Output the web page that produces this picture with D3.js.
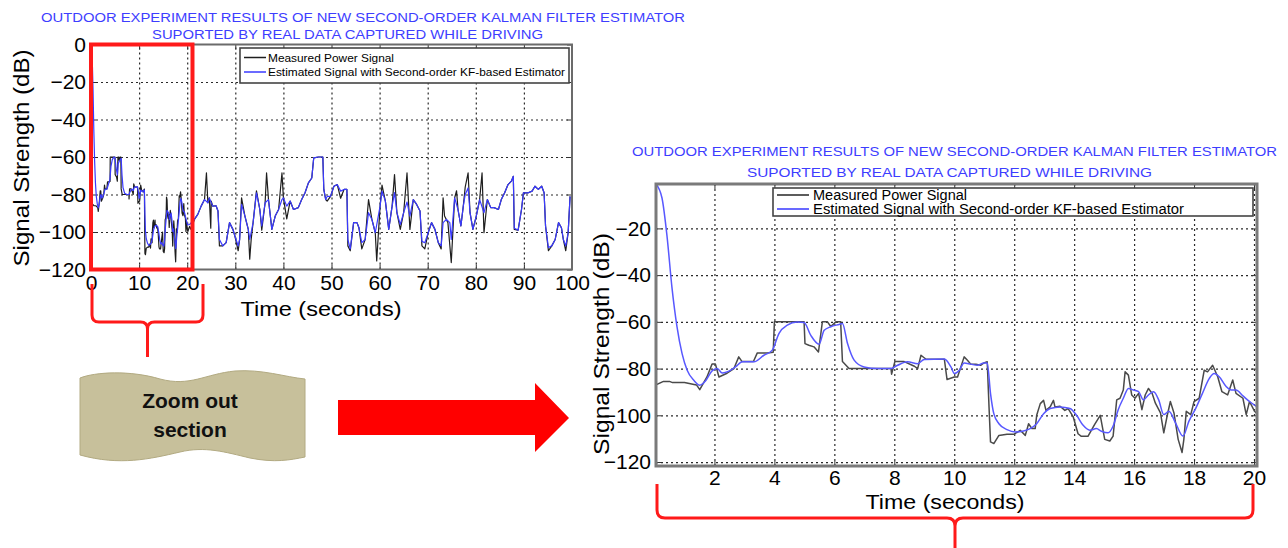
<!DOCTYPE html>
<html><head><meta charset="utf-8">
<script src="https://cdn.jsdelivr.net/npm/d3@7"></script>
<style>
html,body{margin:0;padding:0;background:#fff;}
svg{display:block;font-family:Arial,"Liberation Sans",sans-serif;}
</style></head><body>
<svg id="chart" width="1288" height="548"></svg>
<script>
// ---------------- DATA ----------------
const titleLines = ["OUTDOOR EXPERIMENT RESULTS OF NEW SECOND-ORDER KALMAN FILTER ESTIMATOR",
                    "SUPORTED BY REAL DATA CAPTURED WHILE DRIVING"];
const seriesNames = ["Measured Power Signal", "Estimated Signal with Second-order KF-based Estimator"];
const xAxisTitle = "Time (seconds)";
const yAxisTitle = "Signal Strength (dB)";
const calloutLines = ["Zoom out", "section"];

const overviewXTicks = [0,10,20,30,40,50,60,70,80,90,100];
const overviewYTicks = [0,-20,-40,-60,-80,-100,-120];
const zoomXTicks = [2,4,6,8,10,12,14,16,18,20];
const zoomYTicks = [-20,-40,-60,-80,-100,-120];
const zoomWindow = [0, 21.1];   // seconds highlighted in the overview

// measured power, first 20 s  [time s, dB]
const measuredFirst20 = [[0.05,-87],[0.3,-85.5],[0.5,-85.5],[0.6,-86],[1.0,-86],[1.4,-87],[1.51,-89],[1.75,-83.6],[1.92,-78],[2.03,-78],[2.15,-83.6],[2.42,-82],[2.65,-80],[2.81,-75],[2.92,-77],[3.3,-77],[3.43,-73.3],[3.76,-73.3],[3.96,-73],[4.0,-60],[4.99,-60],[5.02,-69.3],[5.15,-70],[5.32,-70.7],[5.47,-72.9],[5.6,-60],[5.77,-60],[5.88,-62],[6.05,-60],[6.21,-60],[6.27,-77],[6.49,-80],[7.89,-80],[7.91,-82.4],[8.02,-77],[8.33,-77],[8.67,-79],[8.78,-80],[8.89,-74.3],[9.06,-76],[9.67,-76],[9.76,-84.7],[10.0,-83.6],[10.11,-83.6],[10.33,-75],[10.44,-76.4],[10.55,-78.1],[10.72,-78.1],[10.88,-78.6],[10.99,-77.6],[11.1,-77.1],[11.16,-96.4],[11.21,-111.4],[11.32,-112.1],[11.49,-108.6],[11.76,-108.1],[12.0,-108.1],[12.2,-106.4],[12.37,-108.6],[12.48,-103.6],[12.59,-105.7],[12.7,-105.7],[12.75,-100],[12.87,-95],[12.98,-93.6],[13.06,-97.9],[13.2,-96.4],[13.31,-93.6],[13.36,-96.4],[13.53,-96.1],[13.69,-97.9],[13.8,-97.1],[13.97,-100.7],[14.13,-107.9],[14.24,-109],[14.46,-109],[14.68,-104],[14.87,-100],[15.02,-110.3],[15.19,-111],[15.3,-108.9],[15.42,-93.4],[15.53,-92.7],[15.64,-89.2],[15.7,-81.4],[15.81,-82.8],[15.92,-91.3],[16.03,-92.7],[16.15,-90.6],[16.26,-97.6],[16.37,-91.3],[16.48,-88.5],[16.6,-90.6],[16.71,-94.8],[16.88,-99],[16.99,-107.5],[17.1,-100.4],[17.21,-94.1],[17.33,-99],[17.47,-110.3],[17.6,-115.9],[17.66,-110.3],[17.74,-98.3],[17.89,-99.7],[18.0,-94.1],[18.17,-92.7],[18.34,-80.7],[18.45,-81.4],[18.62,-78.6],[18.79,-83.5],[18.93,-89.9],[19.12,-91.3],[19.29,-84.9],[19.4,-90.6],[19.63,-92.7],[19.74,-99.7],[19.85,-94.1],[20.02,-98.3],[20.13,-99.7]];

// KF estimate, first 20 s
const estimatedFirst20 = [[0.0,0],[0.05,-1],[0.25,-7],[0.42,-23.6],[0.58,-45],[0.75,-62],[0.92,-73.6],[1.09,-80.7],[1.31,-85],[1.51,-87.1],[1.7,-85.3],[1.92,-81],[2.09,-80],[2.26,-81.9],[2.42,-81.4],[2.7,-79.3],[2.93,-77.1],[3.32,-77.1],[3.65,-74.3],[3.93,-72.1],[4.15,-65],[4.43,-61.4],[4.76,-60.1],[4.99,-60.3],[5.21,-65.7],[5.49,-69.6],[5.66,-63.6],[5.88,-62.1],[6.16,-61.1],[6.27,-60.7],[6.44,-69.3],[6.66,-76.4],[6.99,-79.3],[7.44,-80],[7.89,-80],[8.11,-78.6],[8.44,-77.1],[8.78,-77.9],[9.0,-76.1],[9.67,-75.9],[9.89,-79.3],[10.0,-82.1],[10.17,-80.7],[10.33,-77.6],[10.55,-78.1],[10.77,-78.6],[10.99,-77.6],[11.1,-77.6],[11.21,-90.7],[11.32,-99.3],[11.49,-103.6],[11.76,-106.1],[12.04,-107.1],[12.31,-106.7],[12.53,-105.7],[12.75,-103.6],[12.98,-99.3],[13.2,-97.1],[13.53,-96.4],[13.86,-97.1],[14.08,-100],[14.3,-104.3],[14.52,-106.4],[14.74,-105.7],[14.91,-106.8],[15.13,-107.5],[15.3,-104.6],[15.47,-97.6],[15.64,-92.7],[15.81,-88.5],[15.98,-89.2],[16.15,-89.9],[16.31,-93.4],[16.48,-91.3],[16.65,-89.9],[16.82,-93.4],[16.99,-99.7],[17.16,-98.3],[17.38,-103.2],[17.63,-108.9],[17.83,-102.5],[18.06,-96.9],[18.28,-90.6],[18.51,-84.2],[18.67,-82.1],[18.84,-83.5],[19.07,-87.7],[19.24,-89.2],[19.4,-89.2],[19.63,-91.7],[19.85,-94.1],[20.08,-96.2]];

// measured power, 20-100 s (overview only)
const measuredLater = [[20.5,-97],[20.8,-98.6],[21.5,-93.3],[22.2,-90.6],[22.9,-86.2],[23.6,-82.7],[24.0,-68.5],[24.3,-84.4],[24.6,-81.8],[24.9,-98],[25.0,-83.5],[25.3,-86.2],[26.0,-86],[26.4,-88.8],[26.7,-107.4],[27.4,-107.4],[28.1,-105.7],[28.8,-95],[29.5,-98.6],[29.9,-102],[30.6,-110],[30.9,-104],[31.3,-81.8],[32.0,-91.5],[32.7,-98.6],[33.0,-114.5],[33.3,-104],[33.7,-95],[34.4,-78],[35.1,-88],[35.5,-99],[36.2,-84.4],[36.5,-68.5],[36.9,-82.7],[37.6,-98.6],[38.3,-91.5],[39.0,-88],[39.7,-68.5],[40.0,-81.8],[40.7,-93],[41.4,-83.5],[42.1,-88],[43.1,-87],[43.8,-82.7],[44.5,-79.1],[45.2,-73.8],[45.9,-71.2],[46.3,-60.5],[47.3,-60],[48.2,-60],[48.4,-77.3],[48.8,-82.7],[49.1,-83.5],[49.8,-81],[50.5,-75.6],[51.2,-74.7],[51.9,-82],[52.6,-77.3],[53.2,-77.3],[53.4,-107.4],[53.9,-110],[54.6,-95],[55.3,-95],[55.7,-97.7],[56.3,-109],[57.0,-104],[57.7,-82.7],[58.4,-93.3],[59.1,-100.4],[59.4,-115.4],[60.1,-86.2],[60.5,-75],[61.2,-83.5],[61.9,-98.6],[62.6,-86.2],[63.1,-69.4],[63.6,-89.7],[64.3,-98.6],[65.0,-89.7],[65.7,-68.5],[66.3,-98.6],[67.0,-82.7],[67.7,-85.3],[68.4,-88.8],[68.8,-107.4],[69.4,-109],[70.1,-100.4],[70.8,-95],[71.5,-98.6],[72.2,-105.7],[72.8,-109],[73.2,-81.8],[73.5,-91.5],[74.2,-95],[74.9,-116.3],[75.6,-81.8],[76.0,-78],[76.3,-88],[76.9,-96.8],[77.4,-86.2],[77.8,-76],[78.4,-68.5],[78.8,-89.7],[79.4,-98.6],[80.1,-91.5],[80.8,-82.7],[81.3,-68.5],[81.7,-100.4],[82.4,-82.7],[83.1,-87],[83.8,-87],[84.7,-88],[85.3,-82.7],[86.0,-79.1],[86.7,-74.7],[87.4,-72.9],[87.8,-70.3],[88.0,-98.6],[88.8,-99],[89.5,-88],[89.9,-79.1],[90.9,-79.1],[91.7,-78.2],[92.3,-75.6],[93.0,-77.3],[93.7,-75.6],[94.2,-79.1],[94.5,-96.8],[95.1,-110],[95.8,-107.4],[96.5,-104],[97.2,-95],[97.8,-97.7],[98.2,-104],[98.7,-110],[99.2,-100.4],[99.6,-81]];

// KF estimate, 20-100 s (overview only)
const estimatedLater = [[20.5,-96],[21.5,-93.3],[22.2,-90.6],[22.9,-86.2],[23.6,-82.7],[24.3,-84.4],[24.6,-81.8],[25.3,-86.2],[26.0,-86],[26.4,-88.8],[26.7,-104],[27.4,-107.4],[28.1,-105.7],[28.8,-95],[29.5,-98.6],[29.9,-102],[30.6,-107.4],[30.9,-104],[31.3,-85.3],[32.0,-91.5],[32.7,-98.6],[33.0,-104],[33.7,-95],[34.4,-79.1],[35.1,-88],[35.5,-96.8],[36.2,-84.4],[36.9,-82.7],[37.6,-98.6],[38.3,-91.5],[39.0,-88],[39.7,-82.7],[40.0,-81.8],[40.7,-86.2],[41.4,-83.5],[42.1,-88],[43.1,-87],[43.8,-82.7],[44.5,-79.1],[45.2,-73.8],[45.9,-71.2],[46.3,-60.5],[47.3,-60],[48.2,-60],[48.4,-77.3],[48.8,-82.7],[49.1,-81],[49.8,-81],[50.5,-75.6],[51.2,-74.7],[51.9,-78.2],[52.6,-77.3],[53.2,-77.3],[53.4,-104],[53.9,-109],[54.6,-95],[55.3,-95],[55.7,-97.7],[56.3,-105.7],[57.0,-104],[57.7,-89.7],[58.4,-93.3],[59.1,-100.4],[60.1,-86.2],[60.5,-78.2],[61.2,-83.5],[61.9,-98.6],[62.6,-86.2],[63.1,-79],[63.6,-89.7],[64.3,-96],[65.0,-89.7],[65.7,-84],[66.3,-91.5],[67.0,-82.7],[67.7,-85.3],[68.4,-88.8],[68.8,-105],[69.4,-105.7],[70.1,-100.4],[70.8,-95],[71.5,-98.6],[72.2,-105.7],[72.8,-107.4],[73.2,-95],[73.9,-93.3],[74.6,-95],[74.9,-104],[75.6,-81.8],[76.3,-88],[76.9,-96.8],[77.4,-86.2],[77.8,-80],[78.4,-76.5],[78.8,-89.7],[79.4,-98.6],[80.1,-91.5],[80.8,-82.7],[81.7,-89.7],[82.4,-82.7],[83.1,-87],[83.8,-87],[84.7,-88],[85.3,-82.7],[86.0,-79.1],[86.7,-74.7],[87.4,-72.9],[87.8,-70.3],[88.0,-98],[88.8,-99],[89.5,-88],[89.9,-79.1],[90.9,-79.1],[91.7,-78.2],[92.3,-75.6],[93.0,-77.3],[93.7,-75.6],[94.2,-79.1],[94.5,-96.8],[95.1,-108.3],[95.8,-107.4],[96.5,-104],[97.2,-95],[97.8,-97.7],[98.2,-104],[98.7,-107.4],[99.2,-100.4],[99.6,-81]];

// ---------------- DRAWING ----------------
const svg = d3.select("#chart");
const FONT = 'Arial,"Liberation Sans",sans-serif';
const BLUE_TITLE = "#3d3dff";

function drawPanel(p) {
  const g = svg.append("g");
  const x = d3.scaleLinear().domain(p.xDomain).range([p.left, p.right]);
  const y = d3.scaleLinear().domain(p.yDomain).range([p.bottom, p.top]);
  const W = p.right - p.left, H = p.bottom - p.top;

  p.titles.forEach((t, i) => {
    g.append("text").attr("x", t.x).attr("y", t.y).attr("text-anchor", "start")
      .attr("textLength", t.w).attr("lengthAdjust", "spacingAndGlyphs")
      .attr("font-size", p.titleSize).attr("fill", BLUE_TITLE).text(titleLines[i]);
  });

  g.append("rect").attr("x", p.left).attr("y", p.top).attr("width", W).attr("height", H).attr("fill", "#fff");

  const gx = g.append("g").attr("transform", `translate(0,${p.bottom})`)
    .call(d3.axisBottom(x).tickValues(p.xGrid).tickSize(-H).tickFormat(""));
  gx.select(".domain").remove();
  gx.selectAll("line").attr("stroke", "#2a2a2a").attr("stroke-width", 1.2).attr("stroke-dasharray", "2,3");
  const gy = g.append("g").attr("transform", `translate(${p.left},0)`)
    .call(d3.axisLeft(y).tickValues(p.yGrid).tickSize(-W).tickFormat(""));
  gy.select(".domain").remove();
  gy.selectAll("line").attr("stroke", "#2a2a2a").attr("stroke-width", 1.2).attr("stroke-dasharray", "2,3");

  [[d3.axisBottom(x).tickValues(p.xTicks).tickSize(-5).tickFormat(""), `translate(0,${p.bottom})`],
   [d3.axisTop(x).tickValues(p.xTicks).tickSize(-5).tickFormat(""), `translate(0,${p.top})`],
   [d3.axisLeft(y).tickValues(p.yTicks).tickSize(-5).tickFormat(""), `translate(${p.left},0)`],
   [d3.axisRight(y).tickValues(p.yTicks).tickSize(-5).tickFormat(""), `translate(${p.right},0)`]]
    .forEach(([ax, tr]) => {
      const a = g.append("g").attr("transform", tr).call(ax);
      a.select(".domain").remove();
      a.selectAll("line").attr("stroke", "#333").attr("stroke-width", 1);
    });

  const cid = "clip-" + p.id;
  svg.append("defs").append("clipPath").attr("id", cid).append("rect")
    .attr("x", p.left).attr("y", p.top - 2).attr("width", W).attr("height", H + 2);
  const lines = g.append("g").attr("clip-path", `url(#${cid})`);
  const lineM = d3.line().x(d => x(d[0])).y(d => y(d[1]));
  const lineE = d3.line().x(d => x(d[0])).y(d => y(d[1])).curve(p.estCurve);
  lines.append("path").datum(p.measured).attr("d", lineM).attr("fill", "none")
    .attr("stroke", p.measColor).attr("stroke-width", p.lw).attr("stroke-linejoin", "round");
  lines.append("path").datum(p.estimated).attr("d", lineE).attr("fill", "none")
    .attr("stroke", p.estColor).attr("stroke-width", p.lw).attr("stroke-linejoin", "round");

  g.append("rect").attr("x", p.left).attr("y", p.top).attr("width", W).attr("height", H)
    .attr("fill", "none").attr("stroke", p.frameColor).attr("stroke-width", p.frameWidth);

  const ax = g.append("g").attr("transform", `translate(0,${p.bottom})`)
    .call(d3.axisBottom(x).tickValues(p.xTicks).tickSize(0).tickPadding(p.xPad));
  ax.select(".domain").remove();
  ax.selectAll("text").attr("font-size", p.tickSize).attr("font-family", FONT).attr("fill", "#000");
  const ay = g.append("g").attr("transform", `translate(${p.left},0)`)
    .call(d3.axisLeft(y).tickValues(p.yTicks).tickSize(0).tickPadding(p.yPad));
  ay.select(".domain").remove();
  ay.selectAll("text").attr("font-size", p.tickSize).attr("font-family", FONT).attr("fill", "#000");

  g.append("text").attr("x", p.xTitle.x).attr("y", p.xTitle.y).attr("text-anchor", "middle")
    .attr("font-size", p.xTitle.fs).attr("textLength", p.xTitle.w).attr("lengthAdjust", "spacingAndGlyphs")
    .text(xAxisTitle);
  g.append("text").attr("transform", `translate(${p.yTitle.x},${p.yTitle.y}) rotate(-90)`)
    .attr("text-anchor", "middle").attr("font-size", p.axisTitleSize)
    .attr("textLength", p.yTitle.w).attr("lengthAdjust", "spacingAndGlyphs").text(yAxisTitle);

  const L = p.legend;
  g.append("rect").attr("x", L.x).attr("y", L.y).attr("width", L.w).attr("height", L.h)
    .attr("fill", "#fff").attr("stroke", "#444").attr("stroke-width", 1.6);
  [p.measColor, p.estColor].forEach((c, i) => {
    const yy = L.y + L.rows[i];
    g.append("line").attr("x1", L.x + L.s0).attr("x2", L.x + L.s1).attr("y1", yy).attr("y2", yy)
      .attr("stroke", c).attr("stroke-width", p.lw + 0.3);
    g.append("text").attr("x", L.x + L.tx).attr("y", yy + L.fs * 0.36).attr("font-size", L.fs)
      .attr("textLength", L.tw[i]).attr("lengthAdjust", "spacingAndGlyphs").text(seriesNames[i]);
  });
  return {x, y};
}

const ov = drawPanel({
  id: "ov", left: 91, right: 572, top: 44.5, bottom: 269.5,
  xDomain: [0, 100], yDomain: [-120, 0],
  xGrid: overviewXTicks.slice(1, -1), yGrid: overviewYTicks.slice(1, -1),
  xTicks: overviewXTicks, yTicks: overviewYTicks,
  measured: measuredFirst20.concat(measuredLater),
  estimated: estimatedFirst20.concat(estimatedLater),
  estCurve: d3.curveLinear, measColor: "#1e1e1e", estColor: "#3a3aff", lw: 1.2,
  frameColor: "#6b6b6b", frameWidth: 2,
  titles: [{x: 41, y: 21.5, w: 644}, {x: 152, y: 38.5, w: 391}], titleSize: 12.5,
  tickSize: 21, xPad: 6, yPad: 5,
  axisTitleSize: 22, xTitle: {x: 321, y: 316, w: 161, fs: 21}, yTitle: {x: 29, y: 158, w: 217},
  legend: {x: 240, y: 48, w: 329, h: 35, rows: [9.5, 24], s0: 4, s1: 26, tx: 28, fs: 11.5, tw: [126, 297]}
});

const zm = drawPanel({
  id: "zm", left: 656, right: 1257, top: 184, bottom: 466,
  xDomain: [0.05, 20.1], yDomain: [-121.7, -1],
  xGrid: zoomXTicks, yGrid: zoomYTicks,
  xTicks: zoomXTicks, yTicks: zoomYTicks,
  measured: measuredFirst20, estimated: estimatedFirst20.slice(1),
  estCurve: d3.curveMonotoneX, measColor: "#4a4a4a", estColor: "#5858ff", lw: 1.5,
  frameColor: "#7a7a7a", frameWidth: 3,
  titles: [{x: 632, y: 156, w: 645}, {x: 747, y: 177, w: 405}], titleSize: 13.5,
  tickSize: 21, xPad: 4, yPad: 5,
  axisTitleSize: 22, xTitle: {x: 945, y: 509, w: 159, fs: 20}, yTitle: {x: 609, y: 344, w: 222},
  legend: {x: 773, y: 188, w: 480, h: 28, rows: [7, 21], s0: 4, s1: 36, tx: 40, fs: 14, tw: [154, 371]}
});

svg.append("rect")
  .attr("x", ov.x(zoomWindow[0])).attr("y", ov.y(0))
  .attr("width", ov.x(zoomWindow[1]) - ov.x(zoomWindow[0])).attr("height", ov.y(-120) - ov.y(0))
  .attr("fill", "none").attr("stroke", "#ff1a1a").attr("stroke-width", 4);

function brace(x0, x1, yTop, yBar, yTip, r) {
  const xm = (x0 + x1) / 2;
  return `M${x0},${yTop} L${x0},${yBar - r} Q${x0},${yBar} ${x0 + r},${yBar} L${xm - r},${yBar} Q${xm},${yBar} ${xm},${yBar + r} L${xm},${yTip}` +
         ` M${xm},${yBar + r} Q${xm},${yBar} ${xm + r},${yBar} L${x1 - r},${yBar} Q${x1},${yBar} ${x1},${yBar - r} L${x1},${yTop}`;
}
svg.append("path").attr("d", brace(92, 203, 284, 322, 357, 7))
  .attr("fill", "none").attr("stroke", "#ff1a1a").attr("stroke-width", 3);
svg.append("path").attr("d", brace(657, 1253, 484, 518, 550, 8))
  .attr("fill", "none").attr("stroke", "#ff1a1a").attr("stroke-width", 3);

svg.append("path")
  .attr("d", "M80,378 C95,372 130,370 160,379 C190,387 205,374 235,371 C262,369 285,377 305,379 " +
             "L305,457 C290,460 275,463 250,458 C225,452 205,446 180,452 C150,459 120,466 80,455 Z")
  .attr("fill", "#c7c09b").attr("stroke", "#b2aa82").attr("stroke-width", 1);
calloutLines.forEach((t, i) => {
  svg.append("text").attr("x", 190).attr("y", 408 + i * 29).attr("text-anchor", "middle")
    .attr("font-size", 21).attr("font-weight", "bold").attr("fill", "#111").text(t);
});

svg.append("path")
  .attr("d", "M338,400 L535,400 L535,383 L569,418 L535,452 L535,435 L338,435 Z")
  .attr("fill", "#ff0000");
</script>
</body></html>
